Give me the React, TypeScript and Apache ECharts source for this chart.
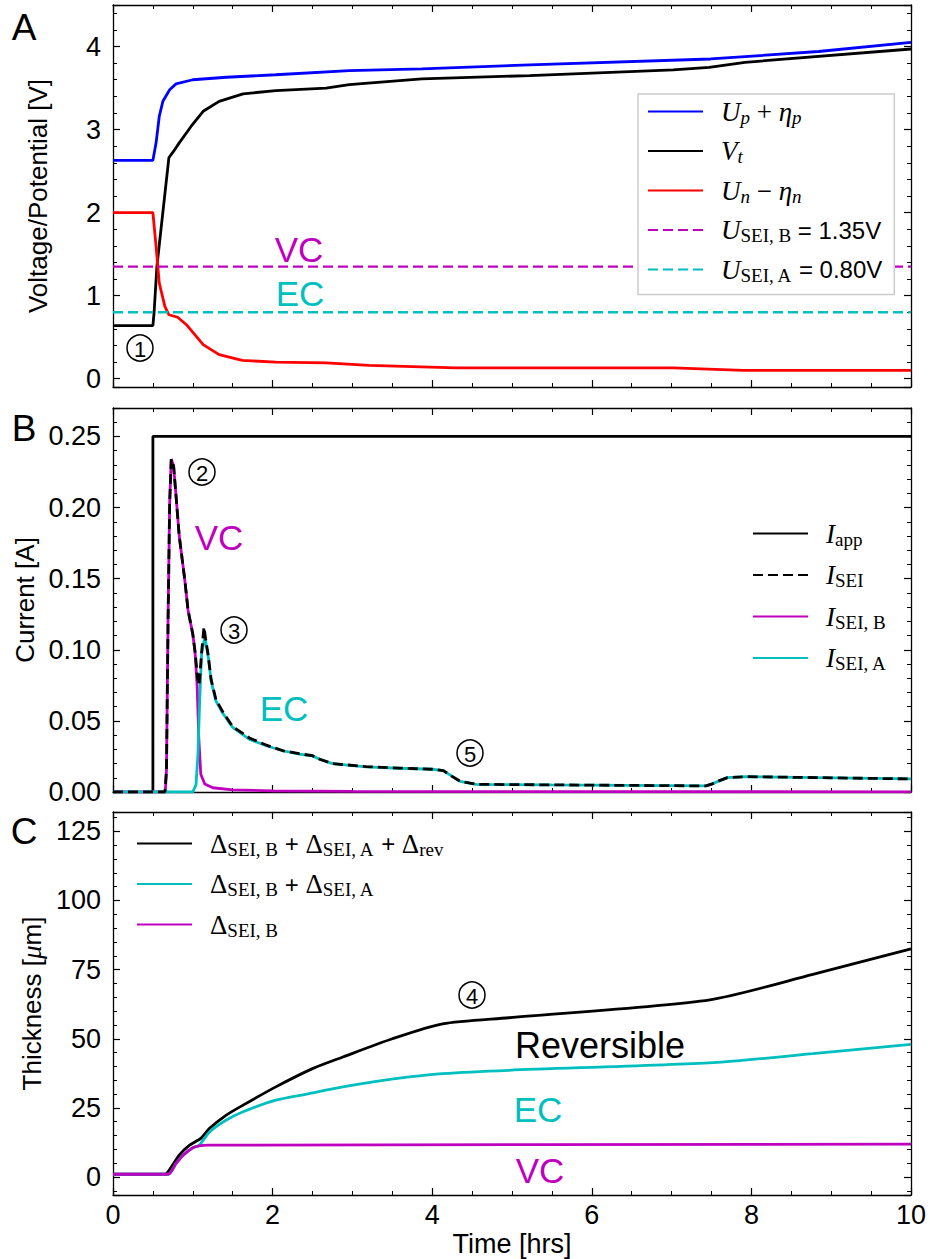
import React, { useEffect, useRef } from 'react';
import * as echarts from 'echarts';

// ---------------- Panel A : Voltage / potential ----------------
const tUp = [0, 0.5, 0.54, 0.58, 0.625, 0.71, 0.79, 1.0, 1.42, 2.04, 2.96, 3.87, 5.22, 7.49, 8.84, 10];
const vUp = [2.63, 2.63, 2.84, 3.16, 3.34, 3.48, 3.55, 3.60, 3.63, 3.66, 3.71, 3.73, 3.78, 3.85, 3.94, 4.05];
const tVt = [0, 0.5, 0.515, 0.55, 0.70, 0.76, 0.83, 0.98, 1.13, 1.33, 1.63, 2.04, 2.67, 2.96, 3.87, 5.22, 7.02, 7.47, 7.92, 10];
const vVt = [0.64, 0.64, 0.80, 1.35, 2.66, 2.74, 2.84, 3.04, 3.22, 3.34, 3.43, 3.47, 3.50, 3.54, 3.61, 3.65, 3.72, 3.75, 3.81, 3.97];
const tUn = [0, 0.5, 0.54, 0.58, 0.65, 0.70, 0.81, 0.92, 1.13, 1.33, 1.62, 2.04, 2.67, 3.21, 4.3, 7.02, 7.9, 10];
const vUn = [2.0, 2.0, 1.59, 1.15, 0.87, 0.77, 0.74, 0.65, 0.41, 0.29, 0.22, 0.20, 0.19, 0.16, 0.13, 0.13, 0.10, 0.10];
const uSeiB = 1.35;
const uSeiA = 0.80;

// ---------------- Panel B : Currents ----------------
const tIapp = [0.5, 0.5, 10];
const vIapp = [0, 0.25, 0.25];
const tIsei = [0, 0.65, 0.67, 0.69, 0.71, 0.73, 0.76, 0.79, 0.83, 0.90, 0.94, 1.0, 1.03, 1.06, 1.08, 1.11, 1.14, 1.16, 1.19, 1.23, 1.29, 1.38, 1.5, 1.71, 1.92, 2.13, 2.33, 2.5, 2.59, 2.75, 3.17, 3.59, 4.0, 4.14, 4.25, 4.35, 4.55, 5.5, 7.43, 7.5, 7.6, 7.7, 7.93, 8.83, 10];
const vIsei = [0, 0, 0.015, 0.121, 0.203, 0.234, 0.229, 0.208, 0.180, 0.149, 0.128, 0.111, 0.098, 0.080, 0.075, 0.098, 0.116, 0.108, 0.097, 0.079, 0.065, 0.056, 0.046, 0.038, 0.033, 0.029, 0.027, 0.0255, 0.023, 0.020, 0.0178, 0.0168, 0.016, 0.0150, 0.011, 0.0075, 0.0054, 0.005, 0.0043, 0.0055, 0.008, 0.0101, 0.0108, 0.0101, 0.0092];
const tIseiB = [0, 0.655, 0.67, 0.69, 0.71, 0.73, 0.76, 0.79, 0.83, 0.90, 0.94, 1.0, 1.03, 1.055, 1.075, 1.10, 1.15, 1.25, 1.5, 2.0, 3.0, 10];
const vIseiB = [0, 0, 0.015, 0.121, 0.203, 0.234, 0.229, 0.208, 0.180, 0.149, 0.128, 0.111, 0.097, 0.074, 0.038, 0.0125, 0.0056, 0.003, 0.0015, 0.0008, 0.0004, 0.0001];
const tIseiA = [0, 1.0, 1.04, 1.065, 1.085, 1.11, 1.15, 1.19, 1.23, 1.29, 1.38, 1.5, 1.71, 1.92, 2.13, 2.33, 2.5, 2.59, 2.75, 3.17, 3.59, 4.0, 4.14, 4.25, 4.35, 4.55, 5.5, 7.43, 7.5, 7.6, 7.7, 7.93, 8.83, 10];
const vIseiA = [0, 0, 0.005, 0.027, 0.062, 0.097, 0.109, 0.097, 0.078, 0.064, 0.055, 0.0454, 0.037, 0.0325, 0.029, 0.0266, 0.0254, 0.023, 0.020, 0.0177, 0.0167, 0.016, 0.0150, 0.011, 0.0075, 0.0054, 0.005, 0.0043, 0.0055, 0.008, 0.0101, 0.0108, 0.0101, 0.0092];

// ---------------- Panel C : Thickness ----------------
const tDtot = [0, 0.65, 0.70, 0.83, 0.96, 1.1, 1.21, 1.42, 1.63, 2.04, 2.5, 2.88, 3.5, 4.13, 4.96, 7.48, 8.77, 10];
const vDtot = [1.0, 1.0, 2.3, 7.9, 11.5, 14.0, 17.6, 22.4, 26.0, 32.6, 39.2, 43.4, 50.0, 55.4, 57.6, 64.1, 73.3, 82.5];
const tDba = [0, 0.69, 0.79, 0.88, 1.0, 1.08, 1.21, 1.42, 1.63, 2.04, 2.46, 2.88, 3.3, 3.71, 4.13, 4.96, 7.52, 8.77, 10];
const vDba = [1.0, 1.0, 4.9, 7.9, 10.6, 11.5, 16.3, 20.6, 23.6, 27.8, 30.2, 32.6, 34.6, 36.2, 37.4, 38.6, 41.4, 44.6, 48.0];
const tDb = [0, 0.69, 0.79, 0.88, 1.0, 1.08, 1.2, 10];
const vDb = [1.0, 1.0, 4.9, 7.9, 10.6, 11.3, 11.5, 11.9];

// axis ticks
const xTicks = { min: 0, max: 10, step: 2, minorSplit: 4 };
const yA = { min: -0.1, max: 4.5, step: 1, minorSplit: 5, digits: 0 };
const yB = { min: 0, max: 0.27, step: 0.05, minorSplit: 5, digits: 2 };
const yC = { min: -6.5, max: 132, step: 25, minorSplit: 5, digits: 0 };

const SANS = '"Liberation Sans", Arial, Helvetica, sans-serif';
const SERIF = '"Liberation Serif", "DejaVu Serif", serif';
const MAG = '#bf00bf';
const CYAN = '#00bfbf';
const LW = 2.8;

const zip = (t: number[], v: number[]) => t.map((x, i) => [x, v[i]]);

const legendText: Record<string, string> = {
  Up: '{gap| }{it|U}{subi|p}{up| + }{it|η}{subi|p}',
  Vt: '{gap| }{it|V}{subi|t}',
  Un: '{gap| }{it|U}{subi|n}{up| − }{it|η}{subi|n}',
  UB: '{gap| }{it|U}{sub|SEI, B}{sans| = 1.35V}',
  UA: '{gap| }{it|U}{sub|SEI, A}{sans| = 0.80V}',
  Iapp: '{gap| }{it|I}{sub|app}',
  Isei: '{gap| }{it|I}{sub|SEI}',
  IseiB: '{gap| }{it|I}{sub|SEI, B}',
  IseiA: '{gap| }{it|I}{sub|SEI, A}',
  Dtot: '{gap| }{up|Δ}{sub|SEI, B}{sans| + }{up|Δ}{sub|SEI, A}{sans| + }{up|Δ}{sub|rev}',
  Dba: '{gap| }{up|Δ}{sub|SEI, B}{sans| + }{up|Δ}{sub|SEI, A}',
  Db: '{gap| }{up|Δ}{sub|SEI, B}',
};

const rich = {
  gap: { width: 13, lineHeight: 30, fontSize: 10 },
  it: { fontFamily: SERIF, fontStyle: 'italic', fontSize: 27, lineHeight: 30, color: '#000' },
  up: { fontFamily: SERIF, fontSize: 27, lineHeight: 30, color: '#000' },
  sub: { fontFamily: SERIF, fontSize: 19, lineHeight: 18, verticalAlign: 'bottom', color: '#000' },
  subi: { fontFamily: SERIF, fontStyle: 'italic', fontSize: 19, lineHeight: 18, verticalAlign: 'bottom', color: '#000' },
  sans: { fontFamily: SANS, fontSize: 24, lineHeight: 30, color: '#000' },
};

const grids = [
  { left: 113, width: 798, top: 5, height: 382 },
  { left: 113, width: 798, top: 408, height: 384 },
  { left: 113, width: 798, top: 812, height: 383 },
];

const axisLine = { show: true, onZero: false, lineStyle: { color: '#000', width: 1.3 } };
const axisTick = { show: true, inside: true, length: 7, lineStyle: { color: '#000', width: 1.2 } };
const minorLine = { color: '#000', width: 1 };

function xAxis(gridIndex: number, position: string, showLabel: boolean, name?: string) {
  return {
    type: 'value', gridIndex, position,
    min: xTicks.min, max: xTicks.max, interval: xTicks.step,
    axisLine, axisTick,
    minorTick: { show: true, splitNumber: xTicks.minorSplit, length: 4, lineStyle: minorLine },
    splitLine: { show: false },
    axisLabel: { show: showLabel, color: '#000', fontSize: 27, fontFamily: SANS, margin: 6 },
    name: name || '', nameLocation: 'middle', nameGap: 35,
    nameTextStyle: { color: '#000', fontSize: 27, fontFamily: SANS },
  };
}

function yAxis(gridIndex: number, position: string, cfg: any, showLabel: boolean, name?: string, nameGap?: number) {
  return {
    type: 'value', gridIndex, position,
    min: cfg.min, max: cfg.max, minInterval: cfg.step, maxInterval: cfg.step, splitNumber: 5,
    axisLine, axisTick,
    minorTick: { show: true, splitNumber: cfg.minorSplit, length: 4, lineStyle: minorLine },
    splitLine: { show: false },
    axisLabel: {
      show: showLabel, color: '#000', fontSize: 27, fontFamily: SANS, margin: 12,
      formatter: (v: number) => {
        const r = v / cfg.step;
        return Math.abs(r - Math.round(r)) < 1e-6 ? v.toFixed(cfg.digits) : '';
      },
    },
    name: name || '', nameLocation: 'middle', nameGap: nameGap || 60,
    nameTextStyle: {
      color: '#000', fontSize: 26, fontFamily: SANS,
      rich: { mu: { fontFamily: SERIF, fontStyle: 'italic', fontSize: 27, color: '#000' } },
    },
  };
}

function line(name: string, data: number[][], color: string, xi: number, dashed = false, width = LW, z = 2, smooth: any = false) {
  return {
    type: 'line', name, data, xAxisIndex: xi, yAxisIndex: xi,
    showSymbol: false, symbol: 'none', smooth, z,
    lineStyle: { color, width, type: dashed ? [10, 5] : 'solid' },
    itemStyle: { color },
    emphasis: { disabled: true },
  };
}

const labels = [
  { text: 'A', x: 24, y: 27, size: 37, color: '#000' },
  { text: 'B', x: 24, y: 428, size: 37, color: '#000' },
  { text: 'C', x: 24, y: 831, size: 37, color: '#000' },
  { text: 'VC', x: 299, y: 249, size: 35, color: MAG },
  { text: 'EC', x: 300, y: 293, size: 35, color: CYAN },
  { text: 'VC', x: 219, y: 537, size: 35, color: MAG },
  { text: 'EC', x: 284, y: 708, size: 35, color: CYAN },
  { text: 'Reversible', x: 600, y: 1045, size: 36, color: '#000' },
  { text: 'EC', x: 538, y: 1109, size: 35, color: CYAN },
  { text: 'VC', x: 540, y: 1170, size: 35, color: MAG },
];
const circled = [
  { text: '1', x: 140, y: 348 },
  { text: '2', x: 202, y: 472 },
  { text: '3', x: 234, y: 630 },
  { text: '5', x: 470, y: 753 },
  { text: '4', x: 472, y: 995 },
];

const legendBase = {
  orient: 'vertical', itemWidth: 55, itemHeight: 14,
  selectedMode: false, itemStyle: { opacity: 0 },
  textStyle: { rich },
};

export default function App() {
  const ref = useRef<HTMLDivElement>(null);
  useEffect(() => {
    if (!ref.current) return;
    const chart = echarts.init(ref.current, undefined, { renderer: 'svg' });
    const fmt = (n: string) => legendText[n] || n;
    const graphic: any[] = labels.map((a) => ({
      type: 'text', x: a.x, y: a.y, z: 100,
      style: { text: a.text, fill: a.color, fontSize: a.size, fontFamily: SANS, align: 'center', verticalAlign: 'middle' },
    }));
    circled.forEach((c) => {
      graphic.push({
        type: 'circle', x: c.x, y: c.y, z: 100,
        shape: { cx: 0, cy: 0, r: 13 },
        style: { fill: 'none', stroke: '#000', lineWidth: 1.5 },
      });
      graphic.push({
        type: 'text', x: c.x, y: c.y + 1, z: 100,
        style: { text: c.text, fill: '#000', fontSize: 22, fontFamily: SANS, align: 'center', verticalAlign: 'middle' },
      });
    });
    const option: any = {
      animation: false,
      backgroundColor: '#fff',
      grid: grids,
      xAxis: [
        xAxis(0, 'bottom', false), xAxis(1, 'bottom', false), xAxis(2, 'bottom', true, 'Time [hrs]'),
        xAxis(0, 'top', false), xAxis(1, 'top', false), xAxis(2, 'top', false),
      ],
      yAxis: [
        yAxis(0, 'left', yA, true, 'Voltage/Potential [V]', 62),
        yAxis(1, 'left', yB, true, 'Current [A]', 64),
        yAxis(2, 'left', yC, true, 'Thickness [{mu|μ}m]', 54),
        yAxis(0, 'right', yA, false), yAxis(1, 'right', yB, false), yAxis(2, 'right', yC, false),
      ],
      legend: [
        {
          ...legendBase, formatter: fmt,
          data: ['Up', 'Vt', 'Un', 'UB', 'UA'], left: 638, top: 94,
          itemGap: 11, padding: [4, 12, 10, 9],
          borderColor: '#cccccc', borderWidth: 1.5, backgroundColor: '#fff',
        },
        {
          ...legendBase, formatter: fmt,
          data: ['Iapp', 'Isei', 'IseiB', 'IseiA'], left: 752, top: 520,
          itemGap: 13, padding: 0,
        },
        {
          ...legendBase, formatter: fmt,
          data: ['Dtot', 'Dba', 'Db'], left: 136, top: 830,
          itemGap: 12, padding: 0,
        },
      ],
      series: [
        line('Up', zip(tUp, vUp), '#0000ff', 0),
        line('Vt', zip(tVt, vVt), '#000000', 0),
        line('Un', zip(tUn, vUn), '#ff0000', 0),
        line('UB', [[xTicks.min, uSeiB], [xTicks.max, uSeiB]], MAG, 0, true, 2.4),
        line('UA', [[xTicks.min, uSeiA], [xTicks.max, uSeiA]], CYAN, 0, true, 2.4),
        line('Iapp', zip(tIapp, vIapp), '#000000', 1),
        line('IseiB', zip(tIseiB, vIseiB), MAG, 1),
        line('IseiA', zip(tIseiA, vIseiA), CYAN, 1),
        line('Isei', zip(tIsei, vIsei), '#000000', 1, true, LW, 3),
        line('Dtot', zip(tDtot, vDtot), '#000000', 2, false, LW, 2, 0.25),
        line('Dba', zip(tDba, vDba), CYAN, 2, false, LW, 2, 0.25),
        line('Db', zip(tDb, vDb), MAG, 2, false, LW, 2, 0.25),
      ],
      graphic,
    };
    chart.setOption(option);
    return () => chart.dispose();
  }, []);
  return <div ref={ref} style={{ position: 'absolute', left: 0, top: 0, width: 930, height: 1259, background: '#fff' }} />;
}
